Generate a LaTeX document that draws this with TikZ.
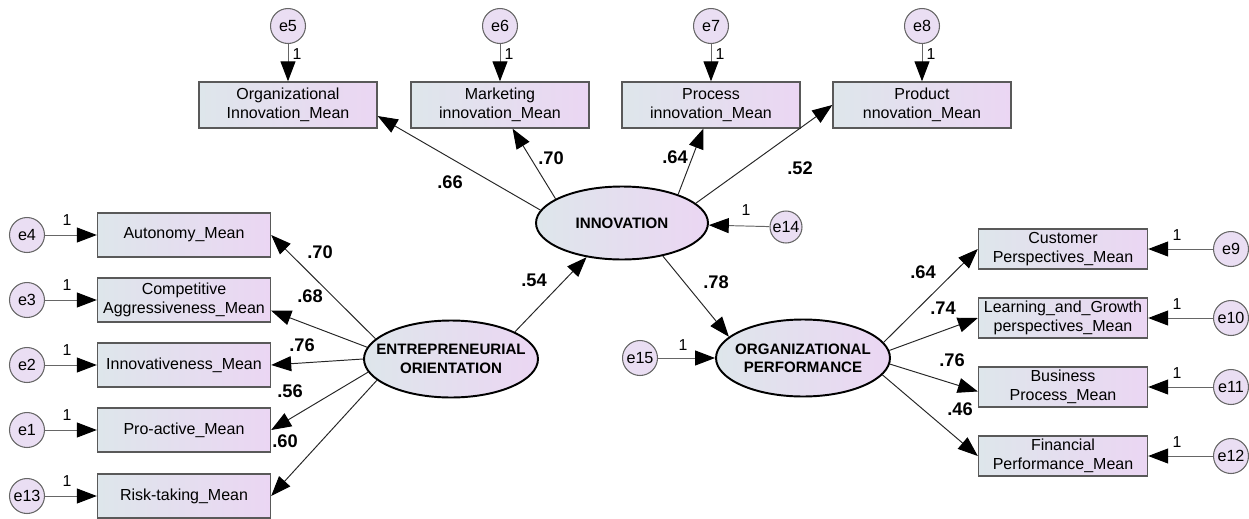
\documentclass[tikz,border=0pt]{standalone}
\usepackage{fontspec}
\setmainfont{Liberation Sans}
\usepackage{tikz}
\usetikzlibrary{positioning, calc}
\usetikzlibrary{arrows.meta}
\usetikzlibrary{shapes}

\definecolor{boxleft}{RGB}{222,230,235}
\definecolor{boxright}{RGB}{235,214,243}
\definecolor{errfill}{RGB}{234,222,243}

\begin{document}
\begin{tikzpicture}[x=0.02cm,y=-0.02cm,-{Triangle[length=0.4cm,width=0.3cm,color=black]},draw=black!85,line width=0.55pt]
 	\useasboundingbox (0,0) rectangle (1249,518);
 	\tikzstyle{obs-node}=[rectangle,draw=black!65,line width=0.8pt,left color=boxleft,right color=boxright,inner sep=0pt,align=center,font=\fontsize{9.1}{10.6}\selectfont]
 	\tikzstyle{top-box}=[obs-node,minimum width=3.56cm,minimum height=0.92cm]
 	\tikzstyle{left-box}=[obs-node,minimum width=3.46cm,minimum height=0.88cm]
 	\tikzstyle{right-box}=[obs-node,minimum width=3.38cm,minimum height=0.8cm]
 	\tikzstyle{lat-node}=[ellipse,draw=black,line width=1.1pt,left color=boxleft,right color=boxright,inner xsep=-0.3cm,inner ysep=0pt,align=center,font=\bfseries\fontsize{8.6}{10.4}\selectfont]
 	\tikzstyle{err-node}=[circle,draw=black!60,line width=0.6pt,fill=errfill,minimum size=0.7cm,inner sep=0pt,font=\fontsize{9.2}{10}\selectfont]
 	\tikzstyle{err-path}=[draw=black!60]
 	\tikzstyle{one-label}=[font=\fontsize{9}{10}\selectfont,inner sep=0pt]
 	\tikzstyle{coef}=[font=\bfseries\fontsize{10.4}{12}\selectfont,inner sep=0pt]

 	% latent variables
 	\node[lat-node,minimum width=3.44cm,minimum height=1.46cm] (inno) at (622,223) {INNOVATION};
 	\node[lat-node,minimum width=3.48cm,minimum height=1.54cm] (eo) at (451,359) {ENTREPRENEURIAL\\ORIENTATION};
 	\node[lat-node,minimum width=3.48cm,minimum height=1.54cm] (op) at (803,358) {ORGANIZATIONAL\\PERFORMANCE};

 	% innovation indicators
 	\node[top-box] (b-org)	at (288,105)	{Organizational\\Innovation\_Mean};
 	\node[top-box] (b-mkt)	at (500,105)	{Marketing\\innovation\_Mean};
 	\node[top-box] (b-proc)	at (711,105)	{Process\\innovation\_Mean};
 	\node[top-box] (b-prod)	at (922,105)	{Product\\nnovation\_Mean};

 	\node[err-node] (e5)	at (288,26)	{e5};
 	\node[err-node] (e6)	at (500,26)	{e6};
 	\node[err-node] (e7)	at (711,26)	{e7};
 	\node[err-node] (e8)	at (922,26)	{e8};
 	\node[err-node,minimum size=0.64cm] (e14)	at (786,227)	{e14};

 	% entrepreneurial orientation indicators
 	\node[left-box] (b-auto)	at (184,235)	{Autonomy\_Mean};
 	\node[left-box] (b-comp)	at (184,300)	{Competitive\\Aggressiveness\_Mean};
 	\node[left-box] (b-innv)	at (184,365)	{Innovativeness\_Mean};
 	\node[left-box] (b-proa)	at (184,430)	{Pro-active\_Mean};
 	\node[left-box] (b-risk)	at (184,496)	{Risk-taking\_Mean};

 	\node[err-node] (e4)	at (27,235)	{e4};
 	\node[err-node] (e3)	at (27,300)	{e3};
 	\node[err-node] (e2)	at (27,365)	{e2};
 	\node[err-node] (e1)	at (27,430)	{e1};
 	\node[err-node] (e13)	at (27,496)	{e13};

 	% performance indicators
 	\node[right-box] (b-cust)	at (1063,249)	{Customer\\Perspectives\_Mean};
 	\node[right-box] (b-lrn)	at (1063,318)	{Learning\_and\_Growth\\perspectives\_Mean};
 	\node[right-box] (b-bus)	at (1063,387)	{Business\\Process\_Mean};
 	\node[right-box] (b-fin)	at (1063,456)	{Financial\\Performance\_Mean};

 	\node[err-node] (e9)	at (1231,249)	{e9};
 	\node[err-node] (e10)	at (1231,318)	{e10};
 	\node[err-node] (e11)	at (1231,387)	{e11};
 	\node[err-node] (e12)	at (1231,456)	{e12};
 	\node[err-node] (e15)	at (640,358)	{e15};

 	% error paths
 	\draw[err-path] (e5) -- (b-org);
 	\draw[err-path] (e6) -- (b-mkt);
 	\draw[err-path] (e7) -- (b-proc);
 	\draw[err-path] (e8) -- (b-prod);
 	\draw[err-path] (e14) -- (inno);
 	\draw[err-path] (e4) -- (b-auto);
 	\draw[err-path] (e3) -- (b-comp);
 	\draw[err-path] (e2) -- (b-innv);
 	\draw[err-path] (e1) -- (b-proa);
 	\draw[err-path] (e13) -- (b-risk);
 	\draw[err-path] (e9) -- (b-cust);
 	\draw[err-path] (e10) -- (b-lrn);
 	\draw[err-path] (e11) -- (b-bus);
 	\draw[err-path] (e12) -- (b-fin);
 	\draw[err-path] (e15) -- (op);

 	% structural and loading paths
 	\draw (inno.171) -- (b-org.-7);
 	\draw (inno.160) -- (b-mkt.-62);
 	\draw (inno.27) -- (b-proc.-108);
 	\draw (inno.15) -- (b-prod.west);
 	\draw (eo.23) -- (inno.-136);
 	\draw (inno.-39) -- (op.164);
 	\draw (eo.165) -- (b-auto.east);
 	\draw (eo.172) -- (b-comp.-7);
 	\draw (eo.180) -- (b-innv.east);
 	\draw (eo.189) -- (b-proa.east);
 	\draw (eo.196) -- (b-risk.east);
 	\draw (op.11) -- (b-cust.west);
 	\draw (op.5) -- (b-lrn.west);
 	\draw (op.-4) -- (b-bus.-177);
 	\draw (op.-12) -- (b-fin.west);

 	% fixed weights
 	\node[one-label] (w5)	at (297,54)	{1};
 	\node[one-label] (w6)	at (509,54)	{1};
 	\node[one-label] (w7)	at (720,54)	{1};
 	\node[one-label] (w8)	at (931,54)	{1};
 	\node[one-label] (w14)	at (746,210)	{1};
 	\node[one-label] (w4)	at (67,220)	{1};
 	\node[one-label] (w3)	at (67,285)	{1};
 	\node[one-label] (w2)	at (67,350)	{1};
 	\node[one-label] (w1)	at (67,415)	{1};
 	\node[one-label] (w13)	at (67,481)	{1};
 	\node[one-label] (w9)	at (1177,235)	{1};
 	\node[one-label] (w10)	at (1177,304)	{1};
 	\node[one-label] (w11)	at (1177,373)	{1};
 	\node[one-label] (w12)	at (1177,442)	{1};
 	\node[one-label] (w15)	at (683,345)	{1};

 	% estimates
 	\node[coef] (c-org)	at (450,182)	{.66};
 	\node[coef] (c-mkt)	at (551,158)	{.70};
 	\node[coef] (c-proc)	at (675,157)	{.64};
 	\node[coef] (c-prod)	at (800,168)	{.52};
 	\node[coef] (c-eo)	at (534,280)	{.54};
 	\node[coef] (c-op)	at (716,282)	{.78};
 	\node[coef] (c-auto)	at (320,252)	{.70};
 	\node[coef] (c-comp)	at (310,296)	{.68};
 	\node[coef] (c-innv)	at (302,345)	{.76};
 	\node[coef] (c-proa)	at (290,391)	{.56};
 	\node[coef] (c-risk)	at (285,441)	{.60};
 	\node[coef] (c-cust)	at (923,272)	{.64};
 	\node[coef] (c-lrn)	at (943,308)	{.74};
 	\node[coef] (c-bus)	at (952,360)	{.76};
 	\node[coef] (c-fin)	at (960,409)	{.46};
\end{tikzpicture}
\end{document}
